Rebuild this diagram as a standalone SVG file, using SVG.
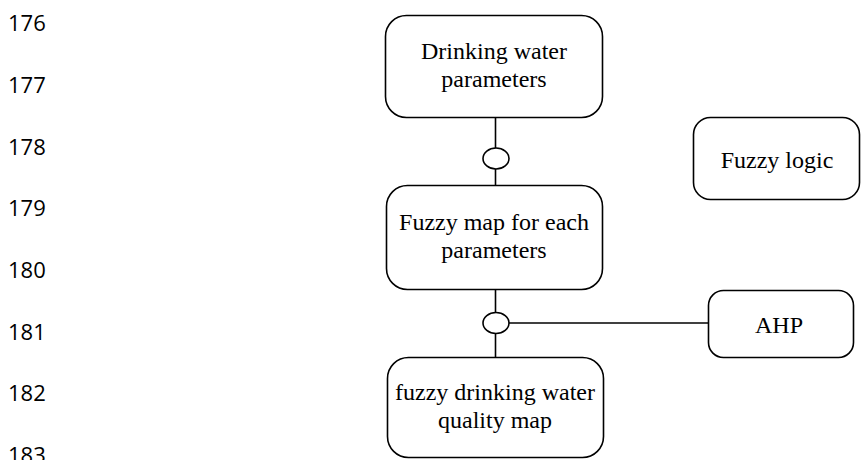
<svg xmlns="http://www.w3.org/2000/svg" width="861" height="460" viewBox="0 0 861 460">
<style>
.box{fill:#fff;stroke:#000;stroke-width:1.6}
.lbl{font-family:"Liberation Serif","Times New Roman",serif;font-size:24px;fill:#000;text-anchor:middle}
.num{font-family:"Open Sans","Liberation Sans",sans-serif;font-size:22px;fill:#000}
.con{fill:none;stroke:#000;stroke-width:1.6}
.knot{fill:#fff;stroke:#000;stroke-width:1.6}
</style>
<rect width="861" height="460" fill="#fff"/>
<g id="line-numbers">
<text class="num" x="8" y="31">176</text>
<text class="num" x="8" y="93">177</text>
<text class="num" x="8" y="155">178</text>
<text class="num" x="8" y="216">179</text>
<text class="num" x="8" y="278">180</text>
<text class="num" x="8" y="340">181</text>
<text class="num" x="8" y="401">182</text>
<text class="num" x="8" y="463">183</text>
</g>
<g id="connectors">
<line class="con" x1="495.5" y1="117" x2="495.5" y2="185"/>
<line class="con" x1="495.5" y1="289" x2="495.5" y2="357"/>
<line class="con" x1="508" y1="323" x2="708" y2="323"/>
<ellipse class="knot" cx="496" cy="158.5" rx="13" ry="10.5"/>
<ellipse class="knot" cx="496" cy="323" rx="13" ry="10.5"/>
</g>
<g id="drinking-water-parameters">
<rect class="box" x="385.5" y="15.5" width="217" height="102" rx="21"/>
<text class="lbl" x="494" y="59">Drinking water</text>
<text class="lbl" x="494" y="87">parameters</text>
</g>
<g id="fuzzy-map">
<rect class="box" x="386.5" y="185.5" width="216" height="104" rx="21"/>
<text class="lbl" x="494" y="230">Fuzzy map for each</text>
<text class="lbl" x="494" y="258">parameters</text>
</g>
<g id="fuzzy-quality-map">
<rect class="box" x="387.5" y="357.5" width="216" height="100" rx="21"/>
<text class="lbl" x="495" y="400">fuzzy drinking water</text>
<text class="lbl" x="495" y="428">quality map</text>
</g>
<g id="fuzzy-logic">
<rect class="box" x="693.5" y="117.5" width="166" height="82" rx="17"/>
<text class="lbl" x="777" y="168">Fuzzy logic</text>
</g>
<g id="ahp">
<rect class="box" x="708.5" y="290.5" width="145" height="67" rx="15"/>
<text class="lbl" x="779" y="333">AHP</text>
</g>
</svg>
